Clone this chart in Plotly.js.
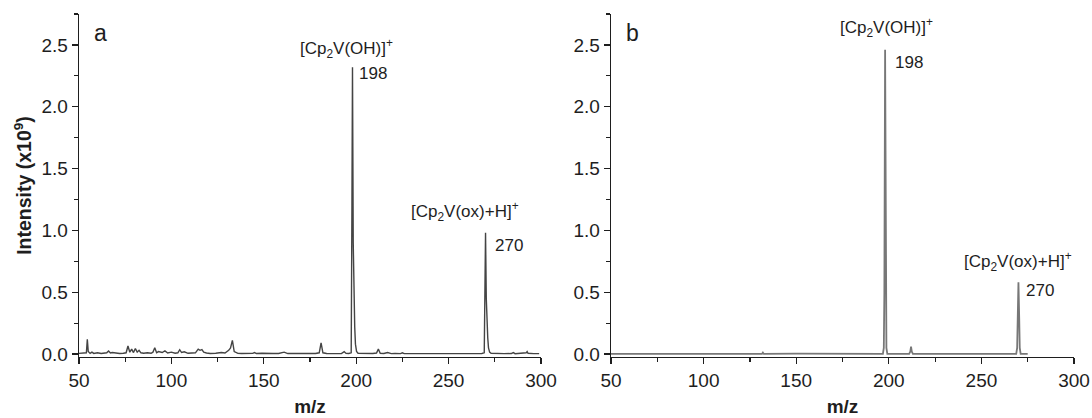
<!DOCTYPE html>
<html>
<head>
<meta charset="utf-8">
<script src="https://cdn.plot.ly/plotly-3.0.1.min.js"></script>
<style>html,body{margin:0;padding:0;background:#fff;}#chart{width:1092px;height:418px;}</style>
</head>
<body>
<div id="chart"></div>
<script>
// Panel a spectrum (m/z, intensity x10^9)
const mzA = [50,53,54,54.5,55,56,57,58,60,62,64,65,66,67,68,70,72,74,75.5,76.5,77.5,78.5,79.5,80.5,81.5,82.5,83.5,85,87,89,90,91,92,93,95,96.5,98,100,102,103.5,104.5,105.5,107,109,111,113,114.5,115.5,116.5,117.5,119,121,124,127,129,131,132,133,134,135,136,138,141,144,145,146,149,152,155,158,160,161,163,167,171,175,178,180,181,182,184,188,192,193.5,194.5,196,197.3,197.7,198,198.4,198.8,199.2,199.6,200.2,201,203,206,209,211,212,213,215,217,219,221,224,225,226,230,240,250,260,266,268,269.3,269.7,270,270.4,270.8,271.2,271.6,272.2,273,275,280,284,285,286,290,292,292.5,293,296,299];
const intA = [0.005,0.005,0.01,0.12,0.02,0.005,0.015,0.005,0.01,0.004,0.006,0.01,0.025,0.008,0.012,0.005,0.004,0.006,0.01,0.065,0.015,0.04,0.012,0.045,0.015,0.03,0.01,0.006,0.01,0.006,0.015,0.05,0.01,0.02,0.012,0.025,0.008,0.015,0.006,0.01,0.035,0.012,0.018,0.006,0.008,0.01,0.04,0.03,0.035,0.015,0.008,0.004,0.006,0.012,0.008,0.03,0.05,0.11,0.02,0.015,0.005,0.004,0.003,0.005,0.012,0.004,0.006,0.003,0.004,0.004,0.008,0.015,0.004,0.003,0.004,0.003,0.004,0.01,0.09,0.01,0.004,0.003,0.004,0.02,0.005,0.004,0.01,1.2,2.32,0.9,0.26,0.22,0.08,0.02,0.006,0.004,0.003,0.004,0.008,0.04,0.006,0.004,0.012,0.003,0.004,0.003,0.01,0.003,0.003,0.003,0.003,0.003,0.003,0.004,0.01,0.5,0.98,0.45,0.15,0.13,0.05,0.015,0.006,0.004,0.003,0.004,0.012,0.003,0.004,0.01,0.02,0.006,0.003,0.003];

// Panel b spectrum
const mzB = [50,70,90,110,131.5,132,132.5,150,165,180,196.8,197.3,197.6,198,198.4,198.7,199.2,205,211,211.6,212,212.4,213,230,250,268.8,269.3,269.6,270,270.4,270.7,271.2,275];
const intB = [0.001,0.001,0.001,0.001,0.001,0.012,0.001,0.003,0.003,0.001,0.001,0.05,0.5,2.46,0.5,0.05,0.001,0.001,0.001,0.02,0.06,0.02,0.001,0.001,0.001,0.001,0.05,0.3,0.58,0.3,0.05,0.001,0.001];

// Labels
const panelLabels = ['a','b'];
const ionOH = '[Cp<sub>2</sub>V(OH)]<sup>+</sup>';
const ionOx = '[Cp<sub>2</sub>V(ox)+H]<sup>+</sup>';
const peakOH = '198';
const peakOx = '270';

const FONT = 'Liberation Sans, Arial, sans-serif';
const INK = '#1e1e1e';

function xax(domain){
  return {domain: domain, range:[50,300], showgrid:false, zeroline:false,
    showline:true, linecolor:INK, linewidth:1.3, ticks:'outside', ticklen:6, tickwidth:1.3, tickcolor:INK,
    dtick:50, tick0:50, tickfont:{family:FONT,size:19,color:INK},
    minor:{dtick:25, tick0:50, ticks:'outside', ticklen:4, tickwidth:1.2, tickcolor:INK, showgrid:false},
    title:{text:'m/z', font:{family:FONT,size:19,color:INK,weight:'bold'}, standoff:9},
    automargin:false, fixedrange:true};
}
function yax(anchor, withTitle){
  const a = {anchor:anchor, range:[-0.024,2.75], showgrid:false, zeroline:false,
    showline:true, linecolor:INK, linewidth:1.3, ticks:'outside', ticklen:6, tickwidth:1.3, tickcolor:INK,
    dtick:0.5, tick0:0, tickformat:'.1f', tickfont:{family:FONT,size:19,color:INK},
    minor:{dtick:0.25, tick0:0, ticks:'outside', ticklen:4, tickwidth:1.2, tickcolor:INK, showgrid:false},
    automargin:false, fixedrange:true};
  if (withTitle) a.title = {text:'Intensity (x10<sup>9</sup>)', font:{family:FONT,size:19.5,color:INK,weight:'bold'}, standoff:4};
  return a;
}

const traces = [
  {x:mzA, y:intA, xaxis:'x', yaxis:'y', type:'scatter', mode:'lines', line:{color:'#444',width:1.4}, hoverinfo:'skip'},
  {x:mzB, y:intB, xaxis:'x2', yaxis:'y2', type:'scatter', mode:'lines', line:{color:'#777',width:1.8}, hoverinfo:'skip'}
];

function ann(xref,yref,x,y,text,size,xanchor){
  return {xref:xref, yref:yref, x:x, y:y, text:text, showarrow:false, xanchor:xanchor||'center', yanchor:'middle',
    font:{family:FONT,size:size,color:INK}};
}

const layout = {
  width:1092, height:418, margin:{l:79,r:18,t:14,b:61},
  paper_bgcolor:'#fff', plot_bgcolor:'#fff', showlegend:false,
  xaxis: xax([0,0.4643]), yaxis: yax('x', true),
  xaxis2: Object.assign(xax([0.5347,1]), {anchor:'y2'}), yaxis2: yax('x2', false),
  annotations:[
    ann('x','y',57,2.6,panelLabels[0],23,'left'),
    ann('x2','y2',57,2.6,panelLabels[1],23,'left'),
    ann('x','y',195,2.47,ionOH,17),
    ann('x','y',200.4,2.27,peakOH,17,'left'),
    ann('x','y',259,1.15,ionOx,17),
    ann('x','y',274,0.88,peakOx,17,'left'),
    ann('x2','y2',199,2.64,ionOH,17),
    ann('x2','y2',202.4,2.36,peakOH,17,'left'),
    ann('x2','y2',270,0.75,ionOx,17),
    ann('x2','y2',273.2,0.51,peakOx,17,'left')
  ]
};

Plotly.newPlot('chart', traces, layout, {staticPlot:true, displayModeBar:false});
</script>
</body>
</html>
